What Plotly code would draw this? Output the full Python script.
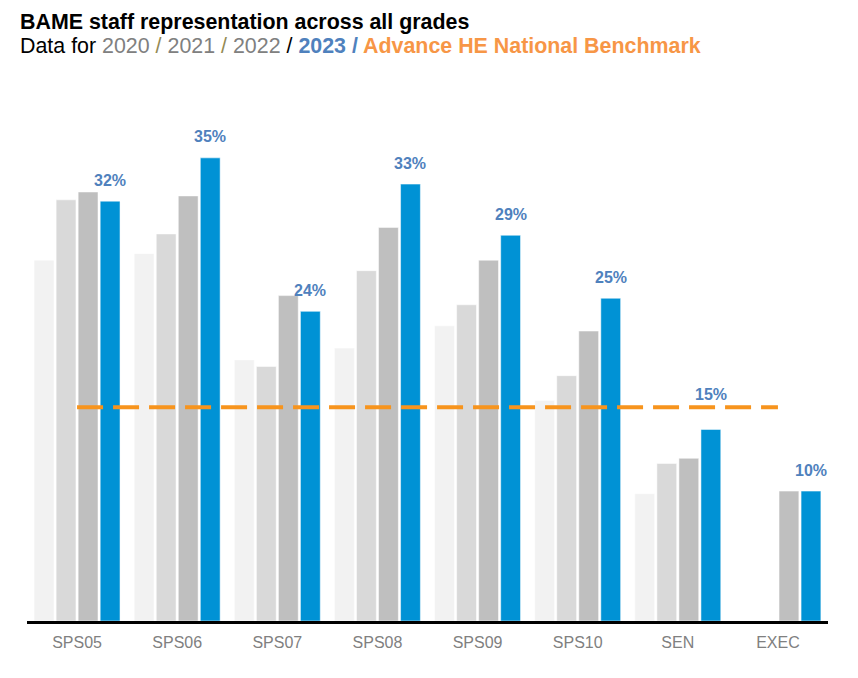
import plotly.graph_objects as go

categories = ["SPS05", "SPS06", "SPS07", "SPS08", "SPS09", "SPS10", "SEN", "EXEC"]
years = ["2020", "2021", "2022", "2023"]
v2020 = [27.5, 28.0, 19.9, 20.8, 22.5, 16.8, 9.7, None]
v2021 = [32.1, 29.5, 19.4, 26.7, 24.1, 18.7, 12.0, None]
v2022 = [32.7, 32.4, 24.8, 30.0, 27.5, 22.1, 12.4, 9.9]
v2023 = [32.0, 35.3, 23.6, 33.3, 29.4, 24.6, 14.6, 9.9]
benchmark = 16.3
label_extra_shift = {"SEN": 14}

series = [v2020, v2021, v2022, v2023]
colors = ["#F2F2F2", "#D9D9D9", "#BFBFBF", "#0092D5"]

FONT = "Liberation Sans, Arial, sans-serif"
fig = go.Figure()
xs = list(range(len(categories)))
for name, vals, col in zip(years, series, colors):
    fig.add_trace(go.Bar(x=xs, y=vals, name=name, marker=dict(color=col, line=dict(color="white", width=0.5)),
                         hoverinfo="y"))

# benchmark dashed line from first to last category
fig.add_trace(go.Scatter(x=[xs[0], xs[-1]], y=[benchmark, benchmark], mode="lines",
                         line=dict(color="#F7941D", width=4, dash="26px,10px"), hoverinfo="skip"))

# 2023 labels
for i, (c, v) in enumerate(zip(categories, v2023)):
    fig.add_annotation(x=i + 0.33, y=v, xref="x", yref="y", text=f"{round(v)}%",
                       showarrow=False, yanchor="middle", yshift=21 + label_extra_shift.get(c, 0),
                       font=dict(family=FONT, size=16, color="#4F81BD", weight="bold"))

# page offset of the plot (body margin 8px)
OFF = 8
plot_left, plot_right = 27, 828
plot_top, plot_bottom = 100, 621
ph = plot_bottom - plot_top
pw = plot_right - plot_left
def py(ypx):
    return (plot_bottom - ypx) / ph
def px(xpx):
    return (xpx - plot_left) / pw

fig.add_annotation(xref="paper", yref="paper", x=px(18), y=py(22), xanchor="left", yanchor="middle",
                   showarrow=False, text="<b>BAME staff representation across all grades</b>",
                   font=dict(family=FONT, size=21.4, color="#000000"))
sub = ("Data for <span style='color:#808080'>2020</span> <span style='color:#948A54'>/</span> "
       "<span style='color:#808080'>2021</span> <span style='color:#948A54'>/</span> "
       "<span style='color:#808080'>2022</span> / "
       "<b><span style='color:#4F81BD'>2023 /</span> <span style='color:#F79646'>Advance HE National Benchmark</span></b>")
fig.add_annotation(xref="paper", yref="paper", x=px(18), y=py(46), xanchor="left", yanchor="middle",
                   showarrow=False, text=sub, font=dict(family=FONT, size=21.4, color="#000000"))

fig.update_layout(
    width=858, height=678,
    margin=dict(l=plot_left - OFF, r=858 - (plot_right - OFF), t=plot_top - OFF, b=678 - (plot_bottom - OFF)),
    paper_bgcolor="white", plot_bgcolor="white",
    barmode="group", bargap=0.12, bargroupgap=0.1,
    showlegend=False,
    font=dict(family=FONT),
    xaxis=dict(tickmode="array", tickvals=xs, ticktext=categories, range=[-0.5, len(categories) - 0.5],
               showline=True, linecolor="#000000", linewidth=2.5, ticks="outside", ticklen=5,
               tickcolor="rgba(0,0,0,0)", showgrid=False, zeroline=False,
               tickfont=dict(family=FONT, size=16, color="#808080")),
    yaxis=dict(range=[0, ph / 13.12], visible=False, showgrid=False, zeroline=False),
)

fig.write_html("out.html")
